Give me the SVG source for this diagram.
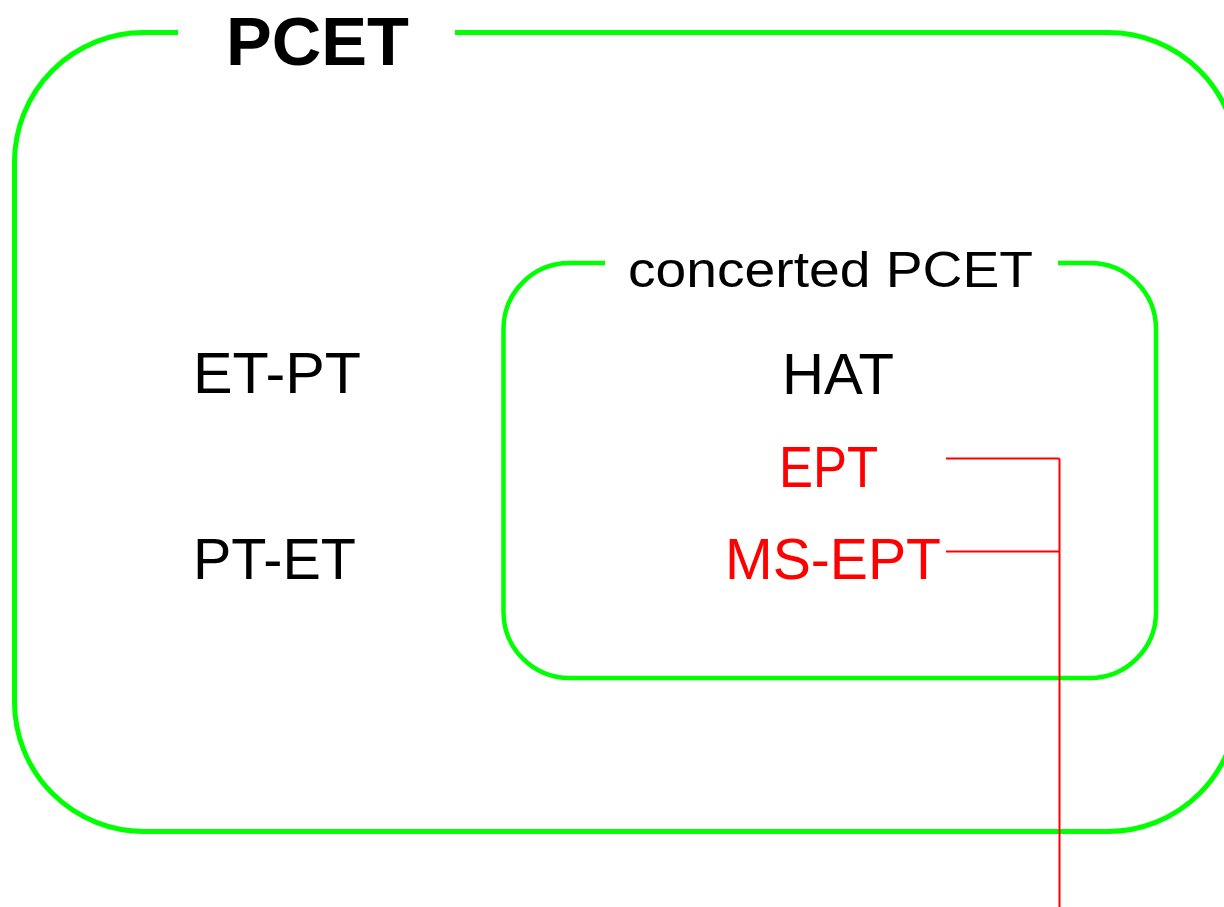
<svg xmlns="http://www.w3.org/2000/svg" width="1224" height="907" viewBox="0 0 1224 907">
<style>
.frame{fill:none;stroke:#00ff00;stroke-width:5}
.inner{fill:none;stroke:#00ff00;stroke-width:4.5}
.lbl{font-family:"Liberation Sans",Arial,sans-serif;fill:#000}
.red{fill:#ff0000}
.conn{stroke:#ff0000;stroke-width:2;fill:none}
</style>
<rect width="1224" height="907" fill="#ffffff"/>
<g id="pcet">
<path class="frame" d="M178,32.5 H144 A129.5,129.5 0 0 0 14.5,162 V702 A129.5,129.5 0 0 0 144,831.5 H1108 A129.5,129.5 0 0 0 1237.5,702 V162 A129.5,129.5 0 0 0 1108,32.5 H455"/>
<text class="lbl" x="226" y="65" font-size="69" font-weight="bold" textLength="183" lengthAdjust="spacingAndGlyphs">PCET</text>
</g>
<g id="concerted">
<path class="inner" d="M605,263 H569.5 A66,66 0 0 0 503.5,329 V612 A66,66 0 0 0 569.5,678 H1090 A66,66 0 0 0 1156,612 V329 A66,66 0 0 0 1090,263 H1058"/>
<text class="lbl" x="628" y="287" font-size="50" textLength="405" lengthAdjust="spacingAndGlyphs">concerted PCET</text>
</g>
<g id="et-pt"><text class="lbl" x="193" y="393" font-size="58" textLength="168" lengthAdjust="spacingAndGlyphs">ET-PT</text></g>
<g id="pt-et"><text class="lbl" x="193" y="579" font-size="58" textLength="163" lengthAdjust="spacingAndGlyphs">PT-ET</text></g>
<g id="hat"><text class="lbl" x="782" y="394" font-size="58" textLength="112" lengthAdjust="spacingAndGlyphs">HAT</text></g>
<g id="ept"><text class="lbl red" x="779" y="487" font-size="58" textLength="99" lengthAdjust="spacingAndGlyphs">EPT</text></g>
<g id="ms-ept"><text class="lbl red" x="725" y="579" font-size="57" textLength="216" lengthAdjust="spacingAndGlyphs">MS-EPT</text></g>
<g id="connectors">
<path class="conn" d="M946,458.5 H1059.5 M946,551.5 H1059.5 M1059.5,458.5 V907"/>
</g>
</svg>
